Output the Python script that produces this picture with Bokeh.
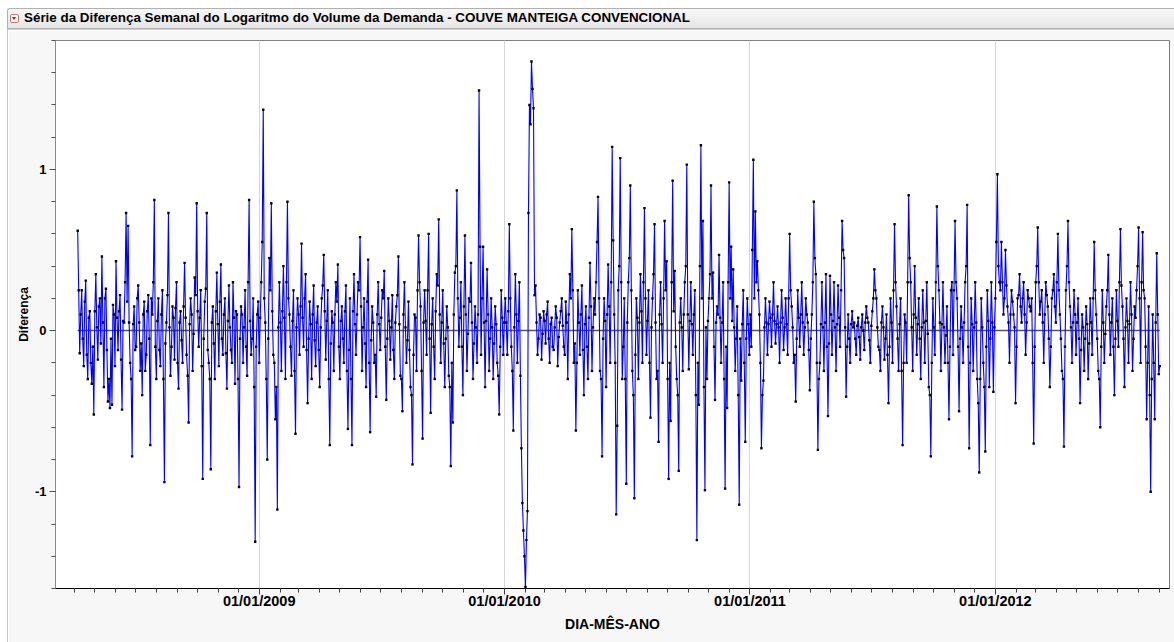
import numpy as np
import pandas as pd
from bokeh.plotting import figure
from bokeh.models import (FixedTicker, DatetimeTickFormatter, Div, Spacer,
                          ColumnDataSource, Range1d, PrintfTickFormatter)
from bokeh.layouts import column, row
from bokeh.embed import file_html
from bokeh.resources import INLINE

titulo = "Série da Diferença Semanal do Logaritmo do Volume da Demanda - COUVE MANTEIGA CONVENCIONAL"
rotulo_x = "DIA-MÊS-ANO"
rotulo_y = "Diferença"

# first date of each yearly block; main observations every 3 days,
# intermediate observations 1.5 days after each main one
inicio_blocos = ["2008-04-06", "2009-01-01", "2010-01-02", "2011-01-03", "2012-01-01"]
passo_dias = 3.0
meio_dias = 1.5

dif_2008 = [0.62, -0.14, 0.25, -0.22, 0.31, -0.30, 0.12, -0.33, -0.52, 0.35,
            -0.18, 0.20, 0.46, -0.35, 0.26, -0.44, -0.48, -0.46, 0.10, 0.43,
            -0.12, 0.22, -0.49, 0.05, 0.73, 0.65, -0.20, -0.78, 0.15, -0.10,
            0.28, -0.25, -0.40, 0.18, -0.15, 0.22, -0.71, 0.10, 0.81, -0.30,
            0.20, -0.22, 0.25, -0.94, 0.05, 0.73, -0.28, 0.15, -0.18, 0.30,
            -0.36, 0.12, -0.20, 0.42, -0.15, -0.57, 0.20, -0.25, 0.33, 0.79,
            -0.10, 0.25, -0.92, 0.18, 0.73, -0.20, -0.86, 0.15, -0.30, 0.36,
            -0.22, 0.41, -0.15, 0.20, -0.36, 0.28, -0.12, 0.30, -0.33, 0.10,
            -0.97, 0.15, -0.20, 0.25, -0.28, 0.81, -0.15, 0.20, -1.31, 0.10]
dif_2008_meio = [0.25, 0.10, -0.05, 0.18, -0.15, 0.08, -0.20, -0.10, 0.12, 0.02,
                 0.15, -0.08, 0.05, 0.20, -0.12, -0.30, -0.05, 0.16, -0.22, 0.08,
                 0.12, -0.18, 0.06, 0.30, 0.18, 0.05, -0.30, 0.04, -0.12, 0.20,
                 0.05, -0.08, 0.10, -0.25, 0.12, -0.05, 0.20, 0.30, -0.10, 0.06,
                 -0.12, 0.10, -0.30, -0.08, 0.22, 0.02, -0.10, 0.08, 0.14, -0.20,
                 0.05, -0.06, 0.15, 0.08, -0.28, 0.04, 0.10, -0.02, 0.22, 0.12,
                 0.08, -0.22, -0.05, 0.26, -0.12, -0.30, 0.05, -0.08, 0.12, 0.04,
                 0.18, -0.05, 0.10, -0.14, 0.06, 0.02, -0.20, 0.08, 0.12, -0.30,
                 -0.05, 0.10, 0.02, -0.10, 0.30, 0.06, -0.05, -0.35, -0.10, 0.18]

dif_2009 = [-0.20, 0.30, 1.37, 0.05, -0.80, 0.45, 0.79, -0.15, -0.55, -1.11,
            0.30, -0.25, 0.40, -0.30, 0.80, 0.10, -0.28, 0.25, -0.64, 0.20,
            -0.15, 0.54, -0.10, 0.35, -0.45, 0.18, -0.30, 0.28, -0.22, 0.15,
            -0.35, 0.20, 0.47, -0.18, 0.25, -0.71, 0.12, -0.25, 0.30, 0.41,
            -0.30, 0.15, -0.20, 0.28, -0.61, 0.20, -0.71, 0.35, -0.15, 0.30,
            0.58, -0.25, 0.20, -0.35, 0.44, -0.63, 0.15, -0.20, -0.41, 0.30,
            -0.12, 0.25, 0.37, -0.43, 0.20, -0.18, 0.22, -0.30, 0.15, 0.46,
            -0.28, -0.50, 0.30, -0.20, 0.18, -0.35, -0.83, 0.10, -0.25, 0.59,
            0.15, -0.67, 0.25, -0.15, 0.60, -0.51, 0.20, -0.30, 0.35, 0.69,
            -0.20, 0.25, -0.35, 0.15, -0.28, -0.84, -0.57, 0.36, 0.87, -0.10,
            0.30, -0.40, 0.59, -0.25, 0.20, 0.42, -0.30, 0.15, -0.20, 1.49,
            -0.15, 0.52, -0.35, 0.38, -0.25, 0.20, -0.30, 0.15, -0.20, -0.52,
            0.25, -0.15]
dif_2009_meio = [0.08, 0.55, 0.20, -0.30, -0.05, 0.25, 0.12, -0.20, -0.35, 0.02,
                 0.05, 0.12, 0.08, 0.30, 0.20, -0.10, 0.06, -0.25, 0.02, 0.10,
                 0.15, 0.08, 0.20, -0.12, -0.05, 0.04, 0.10, -0.06, 0.05, -0.12,
                 0.02, 0.28, 0.12, 0.06, -0.30, -0.08, 0.05, 0.10, 0.18, -0.10,
                 0.06, -0.05, 0.12, -0.25, -0.12, -0.30, 0.12, 0.04, 0.10, 0.25,
                 0.15, 0.02, -0.08, 0.18, -0.20, -0.06, 0.05, -0.15, 0.10, 0.04,
                 0.08, 0.20, -0.10, -0.05, 0.06, 0.02, -0.12, 0.05, 0.22, 0.04,
                 -0.30, 0.10, 0.02, -0.06, -0.12, -0.40, -0.15, 0.08, 0.25, 0.30,
                 -0.25, 0.05, 0.06, 0.25, -0.05, 0.04, -0.10, 0.12, 0.28, 0.10,
                 0.05, -0.08, -0.05, 0.02, -0.35, -0.20, 0.10, 0.40, 0.20, 0.08,
                 -0.10, 0.15, 0.10, -0.02, 0.18, 0.05, -0.08, 0.02, 0.10, 0.52,
                 0.20, 0.05, 0.06, 0.10, -0.05, 0.02, -0.08, 0.04, -0.28, -0.10,
                 0.08, 0.05]

dif_2010 = [0.20, -0.15, 0.66, -0.10, -0.62, 0.35, -0.20, 0.30, -0.73, -1.24,
            -1.59, -1.12, 1.40, 1.67, 1.38, 0.28, -0.15, 0.10, -0.18, 0.12,
            -0.08, 0.18, -0.20, 0.08, -0.12, 0.15, -0.22, 0.05, 0.20, -0.10,
            0.18, -0.30, 0.35, 0.63, -0.20, -0.62, 0.25, -0.15, 0.28, -0.40,
            0.15, -0.30, 0.42, -0.25, 0.20, 0.30, 0.83, -0.25, -0.78, 0.20,
            -0.35, 0.41, -0.20, 1.14, 0.10, -1.14, 0.25, 1.07, -0.30, 0.20,
            -0.95, 0.30, 0.90, -0.25, -1.04, 0.20, -0.30, 0.35, -0.20, 0.76,
            -0.15, 0.25, -0.54, 0.20, 0.66, -0.30, -0.69, 0.30, -0.20, 0.68,
            0.43, -0.92, -0.56, 0.93, 0.37, -0.30, -0.87, 0.20, -0.25, 0.30,
            1.03, -0.24, 0.30, -0.15, 0.25, -1.30, -0.46, 1.15, 0.68, -0.99,
            -0.30, 0.20, 0.90, 0.36, -0.43, 0.15, 0.47, -0.20, 0.30, -0.98,
            -0.48, 0.92, 0.52, 0.38, -0.25, 0.15, -1.08, -0.31, 0.25, -0.69,
            0.20, -0.15]
dif_2010_meio = [0.05, 0.12, 0.20, -0.25, 0.02, 0.10, 0.06, -0.28, -1.07, -1.40,
                 -1.30, 0.73, 1.28, 1.50, 0.22, 0.05, -0.05, 0.08, -0.02, 0.06,
                 0.10, -0.05, 0.04, -0.10, 0.02, 0.08, -0.04, 0.12, 0.03, -0.15,
                 0.05, 0.10, 0.20, 0.25, -0.08, -0.20, 0.05, 0.10, -0.12, 0.04,
                 -0.10, 0.08, 0.15, 0.02, 0.10, 0.55, 0.20, -0.30, -0.05, 0.06,
                 0.10, 0.15, 0.30, 0.56, -0.20, -0.59, 0.40, 0.30, -0.10, -0.30,
                 0.05, 0.45, 0.25, -0.40, -0.15, 0.08, 0.05, 0.12, 0.30, 0.20,
                 0.06, -0.20, 0.02, 0.35, 0.05, -0.25, 0.10, 0.04, 0.20, 0.25,
                 -0.30, -0.20, 0.30, 0.12, -0.10, -0.40, 0.05, 0.02, 0.10, 0.40,
                 0.10, 0.06, 0.04, 0.10, -0.40, -0.20, 0.40, 0.20, -0.35, 0.02,
                 0.06, 0.35, 0.20, -0.10, 0.05, 0.10, 0.08, 0.05, -0.30, -0.10,
                 0.30, 0.20, 0.06, 0.02, -0.05, -0.40, -0.05, 0.04, -0.20, -0.05,
                 0.04, 0.10]

dif_2011 = [-0.10, 1.06, 0.74, 0.43, 0.10, -0.73, -0.31, 0.20, -0.15, 0.18,
            -0.10, 0.30, -0.08, 0.15, -0.20, 0.25, -0.12, 0.20, -0.15, 0.60,
            0.15, -0.20, -0.44, 0.25, -0.10, 0.30, -0.15, 0.20, 0.05, -0.37,
            0.10, 0.80, 0.35, -0.74, -0.20, 0.30, -0.25, 0.35, -0.53, 0.34,
            -0.15, 0.30, -0.25, 0.28, -0.10, 0.68, 0.45, -0.41, 0.10, -0.20,
            0.12, 0.05, -0.15, 0.08, -0.18, 0.10, -0.12, 0.15, 0.05, -0.20,
            0.12, 0.38, 0.20, -0.10, -0.25, 0.15, -0.18, 0.10, -0.45, 0.20,
            -0.20, 0.66, 0.15, -0.25, 0.20, -0.71, 0.10, -0.20, 0.84, 0.30,
            -0.25, 0.40, -0.15, 0.20, -0.30, 0.25, -0.20, 0.30, -0.35, -0.78,
            0.20, -0.15, 0.77, 0.25, -0.25, 0.30, -0.20, 0.15, -0.55, 0.25,
            -0.15, 0.68, 0.20, -0.50, 0.15, -0.20, 0.30, 0.78, -0.73, 0.20,
            -0.25, 0.30, -0.30, -0.88, 0.20, -0.20, -0.75, 0.25, -0.35, 0.30,
            -0.38]
dif_2011_meio = [0.50, 0.20, 0.30, 0.25, -0.20, -0.40, 0.02, 0.05, 0.04, 0.08,
                 0.10, 0.06, 0.04, 0.02, 0.05, 0.08, 0.02, 0.04, 0.20, 0.25,
                 0.02, -0.15, -0.05, 0.08, 0.10, 0.05, 0.02, 0.10, -0.12, -0.05,
                 0.30, 0.45, -0.20, -0.30, 0.04, 0.02, 0.05, -0.10, -0.08, 0.10,
                 0.06, 0.02, 0.04, 0.08, 0.25, 0.50, 0.02, -0.10, -0.05, 0.04,
                 0.02, -0.05, 0.03, -0.04, 0.02, 0.00, 0.05, 0.08, -0.06, 0.03,
                 0.20, 0.25, 0.02, -0.12, 0.05, 0.02, -0.05, -0.15, -0.10, 0.05,
                 0.25, 0.30, -0.05, 0.04, -0.25, -0.20, 0.05, 0.30, 0.45, 0.02,
                 0.10, 0.08, 0.04, -0.05, 0.02, 0.05, 0.06, -0.02, -0.40, -0.20,
                 0.02, 0.30, 0.40, 0.05, 0.04, 0.02, -0.03, -0.20, -0.10, 0.30,
                 0.25, 0.30, -0.10, -0.05, 0.02, 0.05, 0.40, -0.10, -0.20, 0.04,
                 0.02, 0.05, -0.45, -0.30, 0.02, -0.35, -0.10, 0.06, -0.05, 0.05,
                 0.02]

dif_2012 = [0.20, 0.97, 0.30, 0.55, 0.10, 0.50, 0.15, -0.20, 0.25, 0.10,
            -0.45, 0.20, 0.35, 0.05, 0.30, -0.15, 0.25, 0.15, 0.20, -0.70,
            0.30, 0.64, 0.10, 0.25, -0.20, 0.30, 0.15, -0.35, 0.20, 0.35,
            0.05, 0.60, 0.10, -0.25, -0.72, 0.25, 0.68, 0.15, -0.20, 0.25,
            -0.15, 0.20, -0.45, 0.10, -0.25, 0.15, -0.30, 0.20, -0.15, 0.55,
            0.10, -0.25, -0.60, 0.25, -0.20, 0.15, 0.47, -0.15, 0.20, -0.40,
            0.25, -0.10, 0.63, 0.15, -0.35, 0.20, -0.20, 0.30, -0.25, 0.15,
            0.25, 0.64, -0.20, 0.61, 0.20, -0.55, 0.15, -1.00, 0.10, -0.55,
            0.48, -0.27]
dif_2012_meio = [0.55, 0.40, 0.25, 0.30, 0.20, 0.28, 0.05, 0.10, 0.18, 0.02,
                 -0.10, 0.22, 0.15, 0.20, 0.10, 0.05, 0.20, 0.12, -0.20, -0.10,
                 0.40, 0.30, 0.18, 0.05, 0.10, 0.22, -0.05, -0.10, 0.25, 0.15,
                 0.30, 0.25, -0.05, -0.30, -0.10, 0.40, 0.30, 0.02, 0.05, 0.10,
                 0.05, -0.05, -0.12, 0.02, -0.05, 0.04, -0.08, 0.05, 0.20, 0.25,
                 -0.05, -0.30, -0.10, 0.05, -0.02, 0.25, 0.10, 0.05, -0.10, -0.05,
                 0.06, 0.30, 0.28, -0.05, 0.02, 0.06, 0.04, 0.10, -0.05, 0.08,
                 0.40, 0.20, 0.30, 0.25, -0.10, -0.20, -0.40, -0.30, -0.20, 0.05,
                 0.10, -0.22]

anos_rotulados = ["2009-01-01", "2010-01-01", "2011-01-01", "2012-01-01"]
y_ticks = [-1, 0, 1]

# ---- assemble data --------------------------------------------------------
blocos = [(dif_2008, dif_2008_meio), (dif_2009, dif_2009_meio),
          (dif_2010, dif_2010_meio), (dif_2011, dif_2011_meio),
          (dif_2012, dif_2012_meio)]
datas, valores = [], []
for ini, (vals, meio) in zip(inicio_blocos, blocos):
    d0 = pd.Timestamp(ini)
    for k, v in enumerate(vals):
        datas.append(d0 + pd.Timedelta(days=passo_dias * k))
        valores.append(v)
        if k < len(meio):
            datas.append(d0 + pd.Timedelta(days=passo_dias * k + meio_dias))
            valores.append(meio[k])
src = ColumnDataSource(dict(data=datas, dif=valores))

# ---- figure ---------------------------------------------------------------
p = figure(width=1166, height=612, x_axis_type="datetime",
           output_backend="svg", toolbar_location=None, title=None,
           x_range=Range1d(pd.Timestamp("2008-03-04"), pd.Timestamp("2012-09-16")),
           y_range=Range1d(-1.60, 1.80),
           min_border_left=47, min_border_right=5, min_border_top=10,
           min_border_bottom=54)
p.background_fill_color = "white"
p.border_fill_color = "#f7f7f7"
p.outline_line_color = "#808080"
p.outline_line_width = 1

ms = lambda s: pd.Timestamp(s).value // 10**6
maj = [ms(s) for s in anos_rotulados]
mnr = [ms(d) for d in pd.date_range("2008-04-01", "2012-09-01", freq="MS")]
p.xaxis.ticker = FixedTicker(ticks=maj, minor_ticks=mnr)
fmt = "%d/%m/%Y"
p.xaxis.formatter = DatetimeTickFormatter(
    microseconds=fmt, milliseconds=fmt, seconds=fmt, minsec=fmt, minutes=fmt,
    hourmin=fmt, hours=fmt, days=fmt, months=fmt, years=fmt)
p.xgrid.ticker = FixedTicker(ticks=maj)
p.xgrid.grid_line_color = "#d6d6d6"
p.ygrid.grid_line_color = None

p.yaxis.ticker = FixedTicker(ticks=y_ticks,
                             minor_ticks=[round(v, 1) for v in np.arange(-1.6, 1.81, 0.2)])
p.yaxis.formatter = PrintfTickFormatter(format="%d")

for ax in (p.xaxis, p.yaxis):
    ax.major_label_text_font = "Liberation Sans"
    ax.major_label_text_font_style = "bold"
    ax.axis_label_text_font = "Liberation Sans"
    ax.axis_label_text_font_style = "bold"
    ax.major_label_text_color = "black"
    ax.axis_label_text_color = "black"
    ax.major_tick_in = 0
    ax.minor_tick_in = 0
    ax.major_tick_out = 6
    ax.minor_tick_out = 4

p.xaxis.axis_label = rotulo_x
p.xaxis.major_label_text_font_size = "14.5px"
p.xaxis.axis_label_text_font_size = "14px"
p.xaxis.major_label_standoff = -2
p.xaxis.axis_label_standoff = 4
p.xaxis.axis_line_color = "black"
p.xaxis.major_tick_line_color = "#404040"
p.xaxis.minor_tick_line_color = "#404040"

p.yaxis.axis_label = rotulo_y
p.yaxis.major_label_text_font_size = "13px"
p.yaxis.axis_label_text_font_size = "12px"
p.yaxis.major_label_standoff = 3
p.yaxis.axis_label_standoff = 1
p.yaxis.axis_line_color = "#8a8a8a"
p.yaxis.major_tick_line_color = "#505050"
p.yaxis.minor_tick_line_color = "#505050"

# zero reference line across the data span
p.line(x=[datas[0], datas[-1]], y=[0, 0], line_color="#555555", line_width=1.5)
p.line(x="data", y="dif", source=src, line_color="#0000ff", line_width=1.1,
       line_alpha=1.0)
p.scatter(x="data", y="dif", source=src, marker="square", size=2.4,
          fill_color="black", line_color=None)

# ---- title bar ------------------------------------------------------------
html = f"""
<div style="position:relative;width:1174px;height:30px;background:#ffffff;
font-family:'Liberation Sans',Arial,sans-serif;">
 <div style="position:absolute;left:7px;top:8px;width:1167px;height:21px;box-sizing:border-box;
  border:1px solid #b0b0b0;border-right:none;border-radius:3px 0 0 0;
  background:linear-gradient(#f7f7f7,#e6e6e6);"></div>
 <div style="position:absolute;left:10px;top:14px;width:9px;height:9px;box-sizing:border-box;
  border:1px solid #c87878;border-radius:2px;background:#ffffff;"></div>
 <div style="position:absolute;left:12px;top:17px;width:0;height:0;
  border-left:2.5px solid transparent;border-right:2.5px solid transparent;
  border-top:3px solid #e00000;"></div>
 <div style="position:absolute;left:24px;top:10.3px;font-size:13.4px;font-weight:bold;
  color:#000;white-space:nowrap;line-height:15px;">{titulo}</div>
 <div style="position:absolute;left:7px;top:29px;width:1167px;height:1px;background:#d0d0d0;"></div>
</div>
"""
barra = Div(text=html, width=1174, height=30, margin=0)
lateral = Spacer(width=8, height=612,
                 styles={"background-color": "#ffffff",
                         "border-right": "1px solid #c8c8c8",
                         "box-sizing": "border-box"})

layout = column(barra, row(lateral, p, spacing=0), spacing=0)

open("out.html", "w").write(file_html(layout, INLINE))
